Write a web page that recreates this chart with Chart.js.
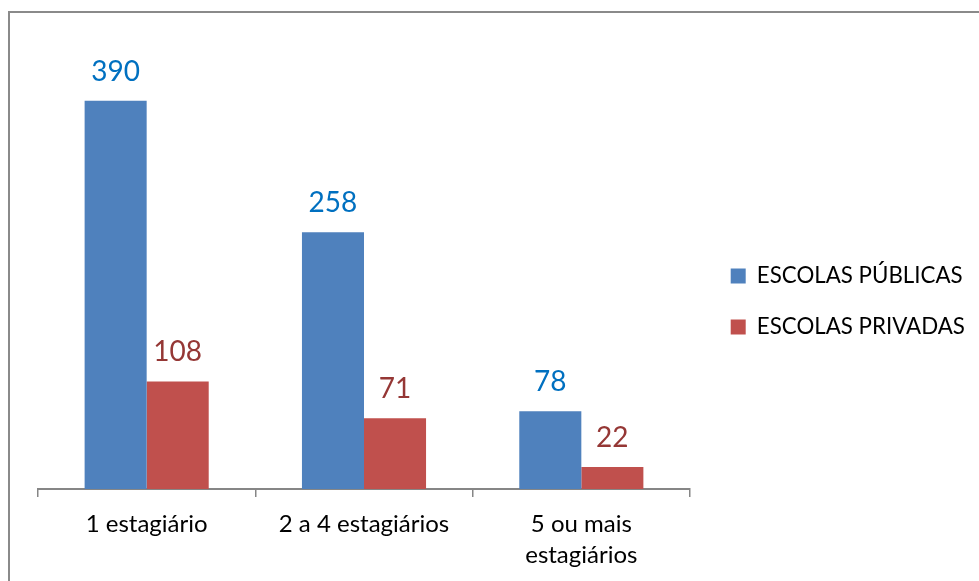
<!DOCTYPE html>
<html>
<head>
<meta charset="utf-8">
<script src="https://cdn.jsdelivr.net/npm/chart.js@4/dist/chart.umd.min.js"></script>
<style>
    html, body { margin: 0; padding: 0; background: #fff; overflow: hidden; }
    #frame { position: absolute; left: 8px; top: 11px; width: 1000px; height: 620px; border: 2px solid #8a8a8a; }
    #chart { position: absolute; left: 10px; top: 13px; }
</style>
</head>
<body>
<div id="frame"></div>
<canvas id="chart" width="969" height="568"></canvas>
<script>
// Data
const categoryLabels = ["1 estagiário", "2 a 4 estagiários", ["5 ou mais", "estagiários"]];
const seriesNames = ["ESCOLAS PÚBLICAS", "ESCOLAS PRIVADAS"];
const publicSchools = [390, 258, 78];
const privateSchools = [108, 71, 22];

// Styles
const barColors = ["#4F81BD", "#C0504D"];
const valueColors = ["#0070C0", "#953735"];
const fontFamily = "Lato, 'Open Sans', sans-serif";
const legendFontSize = 22.3;
const legendPadding = 28.7;
const legendBox = 15;
const plotRight = 680;   // right edge of the plot area, canvas px
const legendGap = 12;    // extra space between plot area and legend

// Legend width (same sum Chart.js uses) so the plot area ends at plotRight
const measure = document.createElement("canvas").getContext("2d");
measure.font = `${legendFontSize}px ${fontFamily}`;
const legendTextWidth = Math.max(...seriesNames.map((n) => measure.measureText(n).width));
const legendWidth = legendPadding + legendBox + legendFontSize / 2 + legendTextWidth + 10;
const rightPadding = Math.max(0, 969 - plotRight - legendWidth);

// Push the legend a little away from the plot area
const legendShift = {
    id: "legendShift",
    afterLayout(chart) {
        chart.legend.left += legendGap;
        chart.legend.right += legendGap;
    },
};

// Value labels above bars
const valueLabels = {
    id: "valueLabels",
    afterDatasetsDraw(chart) {
        const ctx = chart.ctx;
        ctx.save();
        ctx.font = `28px ${fontFamily}`;
        ctx.textAlign = "center";
        ctx.textBaseline = "alphabetic";
        chart.data.datasets.forEach((ds, i) => {
            ctx.fillStyle = valueColors[i];
            chart.getDatasetMeta(i).data.forEach((bar, j) => {
                ctx.fillText(String(ds.data[j]), bar.x, bar.y - 20);
            });
        });
        ctx.restore();
    },
};

new Chart(document.getElementById("chart"), {
    type: "bar",
    data: {
        labels: categoryLabels,
        datasets: [
            { label: seriesNames[0], data: publicSchools, backgroundColor: barColors[0] },
            { label: seriesNames[1], data: privateSchools, backgroundColor: barColors[1] },
        ],
    },
    options: {
        responsive: false,
        animation: false,
        devicePixelRatio: 1,
        categoryPercentage: 0.571,
        barPercentage: 1.0,
        layout: { padding: { top: 9, left: 28, right: rightPadding, bottom: 0 } },
        plugins: {
            tooltip: { enabled: false },
            legend: {
                position: "right",
                align: "center",
                labels: {
                    boxWidth: legendBox,
                    boxHeight: legendBox,
                    padding: legendPadding,
                    color: "#000",
                    font: { family: fontFamily, size: legendFontSize },
                },
            },
        },
        scales: {
            x: {
                grid: { display: true, drawOnChartArea: false, drawTicks: true, tickLength: 8, color: "#868686", lineWidth: 1.5 },
                border: { display: true, color: "#868686", width: 2 },
                ticks: {
                    color: "#000",
                    font: { family: fontFamily, size: 24, lineHeight: 1.29 },
                    padding: 11.5,
                    maxRotation: 0,
                    autoSkip: false,
                },
                afterFit(scale) { scale.height = 92; },
            },
            topSpace: {
                type: "category",
                axis: "x",
                position: "top",
                display: true,
                grid: { display: false },
                border: { display: false },
                ticks: { display: false },
                afterFit(scale) { scale.height = 19; },
            },
            y: { display: false, min: 0, max: 450 },
        },
    },
    plugins: [valueLabels, legendShift],
});
</script>
</body>
</html>
